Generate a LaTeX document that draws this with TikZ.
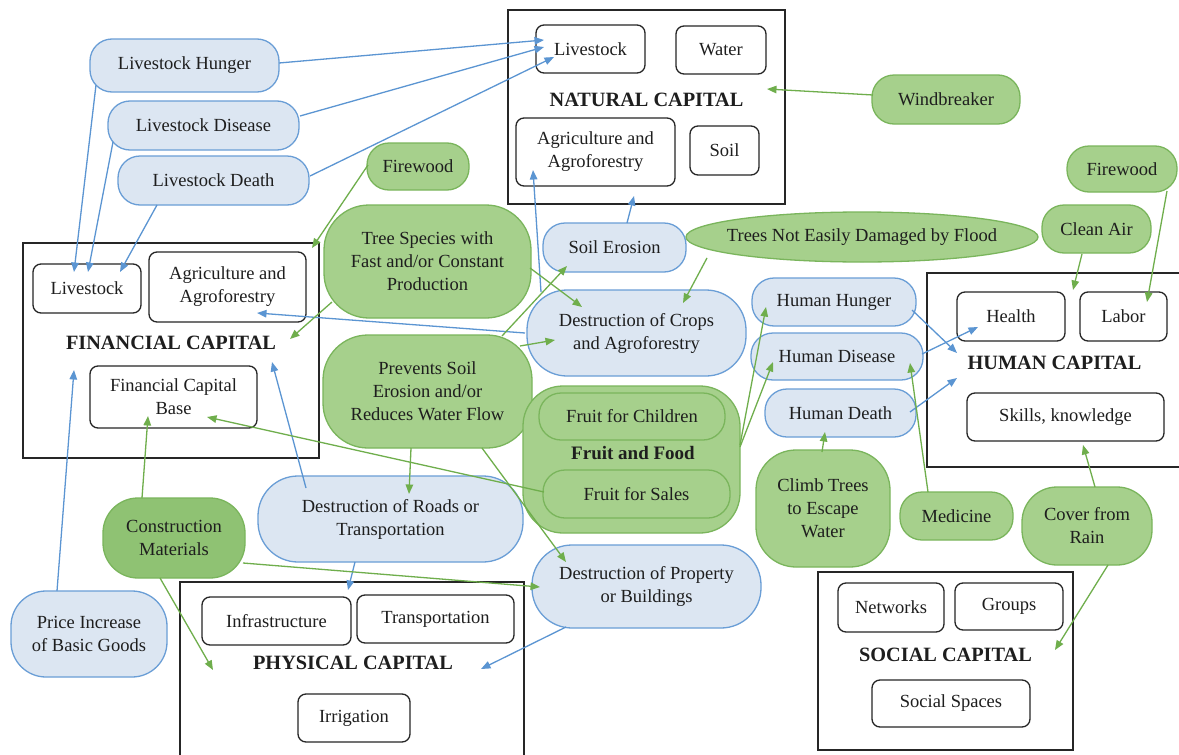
\documentclass[tikz,border=0pt]{standalone}
\usepackage{fontspec}
\setmainfont{Liberation Serif}
\usetikzlibrary{arrows.meta,calc,shapes.geometric}
\definecolor{bfill}{HTML}{DCE6F2}
\definecolor{bline}{HTML}{6A9ED6}
\definecolor{gfill}{HTML}{A6D08C}
\definecolor{gline}{HTML}{7AB55C}
\definecolor{gdark}{HTML}{8FC273}
\definecolor{txt}{HTML}{1E1E1E}
\definecolor{barrow}{HTML}{5B95D2}
\definecolor{garrow}{HTML}{6FAE4C}
\begin{document}
\begin{tikzpicture}[x=1pt,y=-1pt,
  font=\fontsize{18.5}{23}\selectfont, text=txt,
  sz/.style 2 args={minimum width=#1pt, minimum height=#2pt},
  bigbox/.style={draw=black!85, line width=1.6pt, inner sep=0pt},
  inbox/.style={draw=black!85, line width=1.3pt, rounded corners=8pt, inner sep=0pt, align=center},
  bnode/.style={draw=bline, fill=bfill, line width=1.3pt, rounded corners=22pt, inner sep=0pt, align=center},
  gnode/.style={draw=gline, fill=gfill, line width=1.3pt, rounded corners=22pt, inner sep=0pt, align=center},
  captext/.style={font=\fontsize{20.3}{23}\selectfont\bfseries},
  barr/.style={draw=barrow, line width=1.3pt, -{Triangle[length=9.5pt,width=7.5pt]}},
  garr/.style={draw=garrow, line width=1.3pt, -{Triangle[length=9.5pt,width=7.5pt]}}]
\useasboundingbox (0,0) rectangle (1179,755);
\clip (0,0) rectangle (1179,755);
\fill[white] (0,0) rectangle (1179,755);

% ---------- capital boxes ----------
\node[bigbox, sz={277}{194}] (nat) at (646.5,107) {};
\node[inbox, sz={109}{48}] (natlive) at (590.5,49) {Livestock};
\node[inbox, sz={90}{48}] (natwater) at (721,50) {Water};
\node[captext] (natlabel) at (646.5,100) {NATURAL CAPITAL};
\node[inbox, sz={159}{68}] (natagri) at (595.5,152) {Agriculture and\\Agroforestry};
\node[inbox, sz={69}{49}] (natsoil) at (724.5,150.5) {Soil};

\node[bigbox, sz={296}{215}] (fin) at (171,350.5) {};
\node[inbox, sz={108}{49}] (finlive) at (87,288.5) {Livestock};
\node[inbox, sz={157}{70}] (finagri) at (227.5,287) {Agriculture and\\Agroforestry};
\node[captext] (finlabel) at (171,343) {FINANCIAL CAPITAL};
\node[inbox, sz={167}{62}] (finbase) at (173.5,397) {Financial Capital\\Base};

\node[bigbox, sz={258}{194}] (hum) at (1056,370) {};
\node[inbox, sz={108}{49}] (humhealth) at (1011,316.5) {Health};
\node[inbox, sz={87}{49}] (humlabor) at (1123.5,316.5) {Labor};
\node[captext] (humlabel) at (1054.5,363) {HUMAN CAPITAL};
\node[inbox, sz={197}{48}] (humskills) at (1065.5,417) {Skills, knowledge};

\node[bigbox, sz={344}{188}] (phy) at (352,676) {};
\node[inbox, sz={149}{48}] (phyinfra) at (276.5,621) {Infrastructure};
\node[inbox, sz={157}{48}] (phytrans) at (435.5,619) {Transportation};
\node[captext] (phylabel) at (353,663) {PHYSICAL CAPITAL};
\node[inbox, sz={112}{48}] (phyirr) at (354,718) {Irrigation};

\node[bigbox, sz={255}{178}] (soc) at (945.5,661) {};
\node[inbox, sz={106}{49}] (socnet) at (891,607.5) {Networks};
\node[inbox, sz={108}{47}] (socgroups) at (1009,606.5) {Groups};
\node[captext] (soclabel) at (945.5,655) {SOCIAL CAPITAL};
\node[inbox, sz={158}{47}] (socspaces) at (951,703.5) {Social Spaces};

% ---------- blue nodes ----------
\node[bnode, sz={189}{53}] (lh) at (184.5,65.5) {Livestock Hunger};
\node[bnode, sz={191}{49}] (ld) at (203.5,125.5) {Livestock Disease};
\node[bnode, sz={191}{49}] (ldt) at (213.5,180.5) {Livestock Death};
\node[bnode, sz={143}{49}] (soilero) at (614.5,247.5) {Soil Erosion};
\node[bnode, sz={219}{86}, rounded corners=40pt] (dcrops) at (636.5,333) {Destruction of Crops\\and Agroforestry};
\node[bnode, sz={164}{48}] (hhunger) at (834,302) {Human Hunger};
\node[bnode, sz={172}{47}] (hdis) at (837,356.5) {Human Disease};
\node[bnode, sz={151}{48}] (hdeath) at (840.5,413) {Human Death};
\node[bnode, sz={265}{86}, rounded corners=40pt] (droads) at (390.5,519) {Destruction of Roads or\\Transportation};
\node[bnode, sz={229}{83}, rounded corners=40pt] (dprop) at (646.5,586.5) {Destruction of Property\\or Buildings};
\node[bnode, sz={156}{86}, rounded corners=35pt] (price) at (89,634) {Price Increase\\of Basic Goods};

% ---------- green nodes ----------
\node[gnode, sz={102}{47}] (fw1) at (418,166.5) {Firewood};
\node[gnode, sz={207}{113}, rounded corners=45pt] (treesp) at (427.5,261.5) {Tree Species with\\Fast and/or Constant\\Production};
\node[gnode, sz={209}{113}, rounded corners=45pt] (prevents) at (427.5,391.5) {Prevents Soil\\Erosion and/or\\Reduces Water Flow};
\path[draw=gline, fill=gfill, line width=1.3pt] (862,237) ellipse [x radius=176pt, y radius=25pt];
\node[sz={352}{50}, inner sep=0pt] (flood) at (862,237) {Trees Not Easily Damaged by Flood};
\node[gnode, sz={148}{49}] (wind) at (946,99.5) {Windbreaker};
\node[gnode, sz={110}{46}] (fw2) at (1122,169) {Firewood};
\node[gnode, sz={109}{48}] (cleanair) at (1096.5,229) {Clean Air};
\node[gnode, sz={217}{147}, rounded corners=40pt] (fruit) at (631.5,459.5) {};
\node[gnode, sz={186}{47}] (fchild) at (632,416.5) {Fruit for Children};
\node[captext, font=\fontsize{19}{23}\selectfont\bfseries] (fruitlabel) at (633,453) {Fruit and Food};
\node[gnode, sz={187}{48}] (fsales) at (636.5,494) {Fruit for Sales};
\node[gnode, sz={134}{117}, rounded corners=40pt] (climb) at (823,508.5) {Climb Trees\\to Escape\\Water};
\node[gnode, sz={113}{48}] (medicine) at (956.5,516) {Medicine};
\node[gnode, sz={130}{78}, rounded corners=35pt] (cover) at (1087,526) {Cover from\\Rain};
\node[gnode, fill=gdark, sz={142}{80}, rounded corners=35pt] (constr) at (174,538) {Construction\\Materials};

% ---------- blue connectors ----------
\draw[barr] ($(lh)+(94.5,-2.5)$) -- ($(natlive)+(-46.5,-9)$);
\draw[barr] ($(ld)+(96.5,-9.5)$) -- ($(natlive)+(-46.5,-2)$);
\draw[barr] ($(ldt)+(96.5,-4.5)$) -- ($(natlive)+(-36.5,8)$);
\draw[barr] ($(lh)+(-88.5,19.5)$) -- ($(finlive)+(-13,-16.5)$);
\draw[barr] ($(ld)+(-90.5,16.5)$) -- ($(finlive)+(1,-16.5)$);
\draw[barr] ($(ldt)+(-56.5,24.5)$) -- ($(finlive)+(33,-16.5)$);
\draw[barr] ($(soilero)+(12.5,-24.5)$) -- ($(nat)+(-12.5,89)$);
\draw[barr] ($(dcrops)+(-95.5,-41)$) -- ($(natagri)+(-62.5,18)$);
\draw[barr] ($(dcrops)+(-111.5,0)$) -- ($(finagri)+(29.5,26)$);
\draw[barr] ($(droads)+(-84.5,-31)$) -- ($(fin)+(101,11.5)$);
\draw[barr] ($(droads)+(-35.5,43)$) -- ($(phy)+(-4,-86)$);
\draw[barr] ($(dprop)+(-80.5,40.5)$) -- ($(phy)+(129,-7)$);
\draw[barr] ($(price)+(-32,-43)$) -- ($(fin)+(-97,19.5)$);
\draw[barr] ($(hhunger)+(78,8)$) -- ($(hum)+(-99,-17)$);
\draw[barr] ($(hdis)+(85,-2.5)$) -- ($(humhealth)+(-33,10.5)$);
\draw[barr] ($(hdeath)+(69.5,-1)$) -- ($(hum)+(-99,8)$);

% ---------- green connectors ----------
\draw[garr] ($(wind)+(-73,-4.5)$) -- ($(nat)+(120.5,-18)$);
\draw[garr] ($(fw1)+(-50,-1.5)$) -- ($(fin)+(141,-102.5)$);
\draw[garr] ($(treesp)+(-95.5,40.5)$) -- ($(fin)+(119,-11.5)$);
\draw[garr] ($(treesp)+(102.5,6.5)$) -- ($(dcrops)+(-54.5,-26)$);
\draw[garr] ($(prevents)+(74.5,-55.5)$) -- ($(soilero)+(-47.5,18.5)$);
\draw[garr] ($(prevents)+(92.5,-45.5)$) -- ($(dcrops)+(-81.5,7)$);
\draw[garr] ($(prevents)+(-16.5,56.5)$) -- ($(droads)+(18.5,-25)$);
\draw[garr] ($(prevents)+(54.5,56.5)$) -- ($(dprop)+(-80.5,-24.5)$);
\draw[garr] ($(fsales)+(-92.5,-2)$) -- ($(finbase)+(33.5,20)$);
\draw[garr] ($(constr)+(-32,-40)$) -- ($(finbase)+(-25.5,19)$);
\draw[garr] ($(constr)+(69,25)$) -- ($(dprop)+(-106.5,0.5)$);
\draw[garr] ($(constr)+(-14,40)$) -- ($(phy)+(-139,-6)$);
\draw[garr] ($(flood)+(-155,21)$) -- ($(dcrops)+(46.5,-30)$);
\draw[garr] ($(fruit)+(108.5,-14.5)$) -- ($(hhunger)+(-68,5)$);
\draw[garr] ($(fruit)+(108.5,-12.5)$) -- ($(hdis)+(-64,5.5)$);
\draw[garr] ($(climb)+(-1,-56.5)$) -- ($(hdeath)+(-15.5,19)$);
\draw[garr] ($(medicine)+(-28.5,-24)$) -- ($(hdis)+(73,6.5)$);
\draw[garr] ($(cover)+(8,-39)$) -- ($(humskills)+(17.5,28)$);
\draw[garr] ($(cover)+(21,39)$) -- ($(soc)+(109.5,-11)$);
\draw[garr] ($(cleanair)+(-14.5,25)$) -- ($(hum)+(17,-80)$);
\draw[garr] ($(fw2)+(45,22)$) -- ($(humlabor)+(23.5,-14.5)$);
\end{tikzpicture}
\end{document}
